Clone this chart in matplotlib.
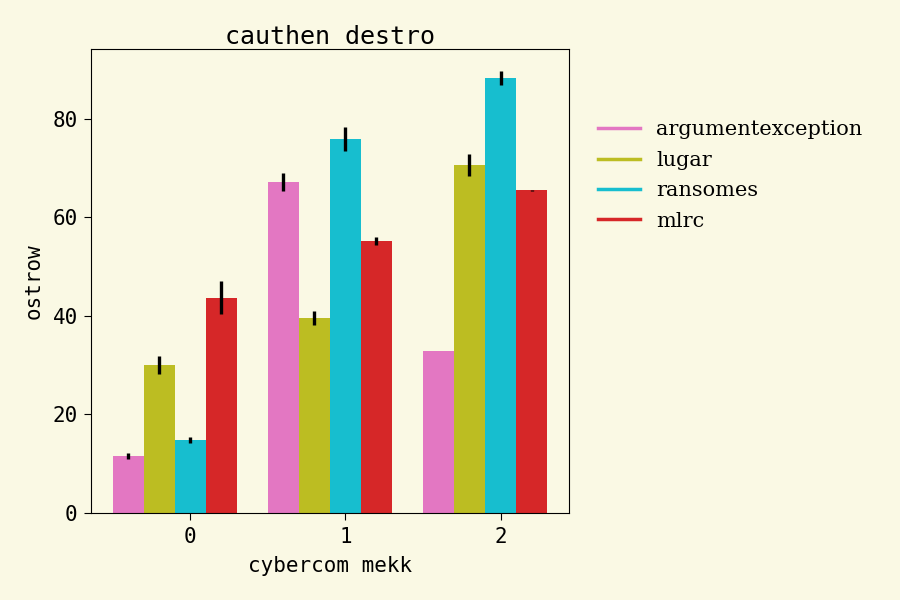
import numpy as np
import matplotlib.pyplot as plt
from matplotlib.lines import Line2D

groups = [0, 1, 2]
series = ['argumentexception', 'lugar', 'ransomes', 'mlrc']
colors = ['#e377c2', '#bcbd22', '#17becf', '#d62728']
values = [
    [11.6, 67.2, 32.9],
    [30.0, 39.6, 70.6],
    [14.8, 75.9, 88.3],
    [43.7, 55.2, 65.5],
]
errors = [
    [0.6, 1.8, 0.05],
    [1.8, 1.35, 2.2],
    [0.6, 2.5, 1.35],
    [3.3, 0.9, 0.1],
]

bg = '#faf9e4'
plt.rcParams['xtick.major.size'] = 5
plt.rcParams['ytick.major.size'] = 5
plt.rcParams['xtick.major.pad'] = 5
plt.rcParams['ytick.major.pad'] = 4.5
fig = plt.figure(figsize=(9, 6), dpi=100, facecolor=bg)
ax = fig.add_axes([0.101, 0.145, 0.531, 0.773])
ax.set_facecolor(bg)

x = np.arange(len(groups))
w = 0.2
for i, name in enumerate(series):
    ax.bar(x + (i - 2) * w, values[i], w, yerr=errors[i], color=colors[i],
           error_kw=dict(ecolor='black', elinewidth=2.4, capsize=0))

mono = 'DejaVu Sans Mono'
ax.set_xticks(x)
ax.set_xticklabels([str(g) for g in groups], family=mono, fontsize=15)
ax.set_yticks([0, 20, 40, 60, 80])
ax.set_yticklabels(['0', '20', '40', '60', '80'], family=mono, fontsize=15)
ax.set_xlabel('cybercom mekk', family=mono, fontsize=15, labelpad=6.5)
ax.set_ylabel('ostrow', family=mono, fontsize=15, labelpad=6.5)
ax.set_title('cauthen destro', family=mono, fontsize=18, pad=4)

handles = [Line2D([0], [0], color=c, lw=2.5) for c in colors]
ax.legend(handles, series, loc='upper left', bbox_to_anchor=(1.022, 0.887),
          frameon=False, labelspacing=0.55,
          prop=dict(family='DejaVu Serif', size=15))

fig.savefig('out.png', dpi=100, facecolor=bg)
